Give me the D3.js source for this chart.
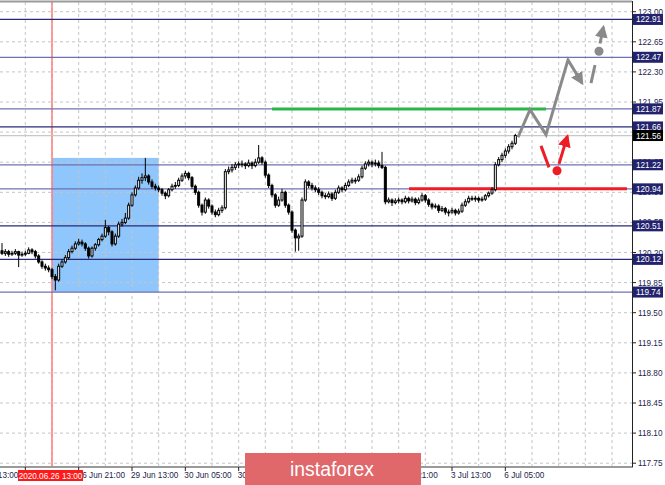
<!DOCTYPE html>
<html><head><meta charset="utf-8">
<script src="https://cdn.jsdelivr.net/npm/d3@7/dist/d3.min.js"></script>
<style>body{margin:0;background:#fff}svg{display:block}text{font-family:"Liberation Sans",Arial,sans-serif}</style>
</head><body><svg id="c" width="665" height="485"></svg>
<script>
// ---- data ----
const opens = [120.22,120.19,120.21,120.18,120.19,120.21,120.17,120.18,120.19,120.23,120.21,120.16,120.09,120.04,120.02,120.00,119.92,119.88,120.04,120.09,120.14,120.21,120.25,120.30,120.32,120.30,120.25,120.16,120.25,120.29,120.35,120.39,120.49,120.44,120.30,120.39,120.53,120.55,120.60,120.75,120.87,120.95,121.04,121.07,121.09,121.02,120.97,120.95,120.93,120.89,120.86,120.93,120.97,120.98,121.04,121.09,121.12,121.07,120.97,120.90,120.75,120.67,120.81,120.74,120.67,120.64,120.69,120.72,121.14,121.16,121.19,121.22,121.23,121.23,121.21,121.24,121.21,121.25,121.30,121.25,121.10,120.98,120.87,120.75,120.81,120.90,120.75,120.67,120.46,120.37,120.39,120.81,121.02,120.98,120.95,120.93,120.90,120.86,120.85,120.88,120.83,120.90,120.95,120.93,120.98,121.02,121.04,121.04,121.08,121.18,121.23,121.25,121.23,121.24,121.21,121.19,120.79,120.81,120.78,120.80,120.81,120.79,120.83,120.80,120.82,120.78,120.81,120.86,120.81,120.76,120.73,120.74,120.69,120.71,120.67,120.67,120.69,120.66,120.68,120.75,120.79,120.83,120.82,120.83,120.81,120.82,120.86,120.89,120.93,121.22,121.28,121.33,121.38,121.43,121.47];
const highs = [120.31,120.24,120.23,120.22,120.24,120.22,120.21,120.22,120.26,120.25,120.23,120.18,120.11,120.07,120.05,120.02,119.95,120.07,120.12,120.17,120.24,120.28,120.33,120.36,120.35,120.32,120.27,120.27,120.31,120.37,120.42,120.58,120.51,120.46,120.42,120.56,120.59,120.66,120.78,120.90,120.98,121.08,121.12,121.30,121.11,121.05,121.00,120.98,120.95,120.91,120.95,121.00,121.02,121.07,121.12,121.15,121.14,121.09,120.99,120.92,120.77,120.84,120.83,120.76,120.70,120.72,120.75,121.17,121.20,121.23,121.25,121.26,121.27,121.25,121.28,121.26,121.29,121.45,121.32,121.27,121.12,121.00,120.89,120.85,120.94,120.92,120.77,120.69,120.48,120.42,120.84,121.05,121.04,121.01,120.98,120.96,120.92,120.89,120.91,120.90,120.93,120.98,120.97,121.01,121.05,121.07,121.07,121.11,121.21,121.26,121.28,121.27,121.28,121.27,121.37,121.21,120.84,120.83,120.83,120.84,120.83,120.86,120.85,120.85,120.84,120.84,120.89,120.88,120.83,120.78,120.77,120.76,120.74,120.73,120.70,120.72,120.71,120.71,120.78,120.82,120.86,120.86,120.86,120.85,120.85,120.88,120.91,120.96,121.25,121.31,121.36,121.41,121.46,121.50,121.58];
const lows = [120.17,120.16,120.15,120.16,120.17,120.03,120.15,120.16,120.18,120.18,120.13,120.07,120.01,119.99,119.97,119.89,119.76,119.86,120.02,120.07,120.12,120.19,120.23,120.28,120.27,120.22,120.13,120.14,120.22,120.27,120.33,120.37,120.40,120.27,120.28,120.37,120.50,120.53,120.58,120.73,120.85,120.93,121.00,121.03,120.99,120.94,120.92,120.90,120.86,120.82,120.84,120.91,120.94,120.96,121.02,121.06,121.04,120.94,120.87,120.72,120.63,120.65,120.71,120.64,120.61,120.62,120.66,120.70,121.11,121.13,121.16,121.18,121.19,121.17,121.19,121.17,121.19,121.23,121.22,121.07,120.95,120.84,120.72,120.73,120.79,120.72,120.64,120.43,120.21,120.22,120.37,120.79,120.95,120.92,120.90,120.87,120.83,120.82,120.83,120.80,120.81,120.88,120.90,120.91,120.96,121.00,121.00,121.02,121.06,121.16,121.20,121.19,121.20,121.18,121.17,120.76,120.77,120.74,120.76,120.77,120.76,120.77,120.77,120.78,120.75,120.76,120.79,120.78,120.73,120.70,120.71,120.66,120.67,120.64,120.62,120.65,120.63,120.64,120.66,120.73,120.77,120.80,120.79,120.78,120.79,120.80,120.84,120.87,120.91,121.20,121.25,121.30,121.35,121.40,121.45];
const closes = [120.19,120.21,120.18,120.19,120.21,120.17,120.18,120.19,120.23,120.21,120.16,120.09,120.04,120.02,120.00,119.92,119.88,120.04,120.09,120.14,120.21,120.25,120.30,120.32,120.30,120.25,120.16,120.25,120.29,120.35,120.39,120.49,120.44,120.30,120.39,120.53,120.55,120.60,120.75,120.87,120.95,121.04,121.07,121.09,121.02,120.97,120.95,120.93,120.89,120.86,120.93,120.97,120.98,121.04,121.09,121.12,121.07,120.97,120.90,120.75,120.67,120.81,120.74,120.67,120.64,120.69,120.72,121.14,121.16,121.19,121.22,121.23,121.23,121.21,121.24,121.21,121.25,121.30,121.25,121.10,120.98,120.87,120.75,120.81,120.90,120.75,120.67,120.46,120.37,120.39,120.81,121.02,120.98,120.95,120.93,120.90,120.86,120.85,120.88,120.83,120.90,120.95,120.93,120.98,121.02,121.04,121.04,121.08,121.18,121.23,121.25,121.23,121.24,121.21,121.19,120.79,120.81,120.78,120.80,120.81,120.79,120.83,120.80,120.82,120.78,120.81,120.86,120.81,120.76,120.73,120.74,120.69,120.71,120.67,120.67,120.69,120.66,120.68,120.75,120.79,120.83,120.82,120.83,120.81,120.82,120.86,120.89,120.93,121.22,121.28,121.33,121.38,121.43,121.47,121.56];

const priceTicks = ["123.00","122.65","122.30","121.95","121.60","121.25","120.90","120.55","120.20","119.85","119.50","119.15","118.80","118.45","118.10","117.75"];
const timeLabels = ["25 Jun 13:00","26 Jun 05:00","26 Jun 21:00","29 Jun 13:00","30 Jun 05:00","30 Jun 21:00","1 Jul 13:00","2 Jul 05:00","2 Jul 21:00","3 Jul 13:00","6 Jul 05:00"];
const timeLabelIdx = [-9,7,23,39,55,71,87,103,119,135,151];
const gridIdx = d3.range(-1, 184, 8);
const levels = [122.91,122.47,121.87,121.66,121.22,120.94,120.51,120.12,119.74];
const levelDark = [true,false,false,true,false,false,true,true,false];
const currentPrice = 121.56;
const markerIdx = 15, markerLabel = "2020.06.26 13:00";
const zoneIdx = [15,47], zonePrice = [121.30, 119.74];
const greenLine = {from:81, to:163.2, price:121.87};
const redLine = {from:122.1, to:187.5, price:120.94};
const grayPath = [[154.8,121.54],[158.4,121.86],[163.2,121.57],[169.8,122.44],[174.0,122.17]];
const grayDash = [[176.7,122.17],[177.9,122.38]];
const grayDot = [179.1,122.54];
const grayArrow = [[179.4,122.63],[180.4,122.82]];
const redSeg = [[161.7,121.44],[164.1,121.19]];
const redDot = [166.5,121.15];
const redArrow = [[167.1,121.23],[169.6,121.55]];

// ---- scales ----
const svg = d3.select("#c");
const plotR = 632, plotB = 467;
const x = d3.scaleLinear().domain([0,1]).range([2, 2+10/3]);
const y = d3.scaleLinear().domain([117.75,123]).range([463.2,11.7]);

const defs = svg.append("defs");
function marker(id,color){
  defs.append("marker").attr("id",id).attr("viewBox","0 0 10 10").attr("refX",8).attr("refY",5)
   .attr("markerWidth",4.3).attr("markerHeight",4.3).attr("orient","auto").attr("markerUnits","strokeWidth")
   .append("path").attr("d","M0,0L10,5L0,10z").attr("fill",color);
}
marker("ag","#8a8a8a"); marker("ar","#ee1c25");
defs.append("clipPath").attr("id","pc").append("rect").attr("x",0).attr("y",2).attr("width",plotR).attr("height",plotB-2);

const plot = svg.append("g").attr("clip-path","url(#pc)");
plot.append("rect").attr("x",x(zoneIdx[0])).attr("y",y(zonePrice[0])).attr("width",x(zoneIdx[1])-x(zoneIdx[0])).attr("height",y(zonePrice[1])-y(zonePrice[0])).attr("fill","#8fc6fb");
plot.selectAll(".gv").data(gridIdx).join("line").attr("x1",d=>x(d)).attr("x2",d=>x(d)).attr("y1",2).attr("y2",plotB)
  .attr("stroke","#c4c4c4").attr("stroke-width",1).attr("stroke-dasharray","3,3");
plot.selectAll(".gh").data(priceTicks).join("line").attr("x1",0).attr("x2",plotR).attr("y1",d=>y(+d)).attr("y2",d=>y(+d))
  .attr("stroke","#c4c4c4").attr("stroke-width",1).attr("stroke-dasharray","3,3");
plot.append("line").attr("x1",x(markerIdx)).attr("x2",x(markerIdx)).attr("y1",2).attr("y2",plotB).attr("stroke","#ff7b7b").attr("stroke-width",1.5);
plot.selectAll(".lv").data(levels).join("line").attr("x1",0).attr("x2",plotR).attr("y1",d=>y(d)).attr("y2",d=>y(d))
  .attr("stroke",(d,i)=>levelDark[i]?"#2a2a78":"#7070b4").attr("stroke-width",1.3);
plot.append("line").attr("x1",0).attr("x2",plotR).attr("y1",y(currentPrice)).attr("y2",y(currentPrice)).attr("stroke","#c8c8c8").attr("stroke-width",1.2);
plot.append("line").attr("x1",x(greenLine.from)).attr("x2",x(greenLine.to)).attr("y1",y(greenLine.price)).attr("y2",y(greenLine.price)).attr("stroke","#2cb54a").attr("stroke-width",3);
plot.append("line").attr("x1",x(redLine.from)).attr("x2",x(redLine.to)).attr("y1",y(redLine.price)).attr("y2",y(redLine.price)).attr("stroke","#ee1c25").attr("stroke-width",3);
// candles
const idx = d3.range(closes.length);
const cg = plot.append("g");
cg.selectAll(".w").data(idx).join("line").attr("x1",i=>x(i)).attr("x2",i=>x(i))
  .attr("y1",i=>y(highs[i])).attr("y2",i=>y(lows[i])).attr("stroke","#000").attr("stroke-width",1);
cg.selectAll(".b").data(idx).join("rect")
  .attr("x",i=>x(i)-1).attr("width",2)
  .attr("y",i=>y(Math.max(opens[i],closes[i]))).attr("height",i=>Math.max(0.8,Math.abs(y(opens[i])-y(closes[i]))))
  .attr("fill",i=>closes[i]>=opens[i]?"#fff":"#000").attr("stroke","#000").attr("stroke-width",1);
// annotations
const ln = d3.line().x(d=>x(d[0])).y(d=>y(d[1]));
plot.append("path").attr("d",ln(grayPath)).attr("fill","none").attr("stroke","#8a8a8a").attr("stroke-width",3).attr("marker-end","url(#ag)");
plot.append("path").attr("d",ln(grayDash)).attr("fill","none").attr("stroke","#8a8a8a").attr("stroke-width",3);
plot.append("circle").attr("cx",x(grayDot[0])).attr("cy",y(grayDot[1])).attr("r",4.5).attr("fill","#8a8a8a");
plot.append("path").attr("d",ln(grayArrow)).attr("fill","none").attr("stroke","#8a8a8a").attr("stroke-width",3).attr("marker-end","url(#ag)");
plot.append("path").attr("d",ln(redSeg)).attr("fill","none").attr("stroke","#ee1c25").attr("stroke-width",3);
plot.append("circle").attr("cx",x(redDot[0])).attr("cy",y(redDot[1])).attr("r",4.5).attr("fill","#ee1c25");
plot.append("path").attr("d",ln(redArrow)).attr("fill","none").attr("stroke","#ee1c25").attr("stroke-width",3).attr("marker-end","url(#ar)");

// frame
svg.append("line").attr("x1",0).attr("x2",plotR).attr("y1",1.5).attr("y2",1.5).attr("stroke","#9a9a9a").attr("stroke-width",2);
svg.append("line").attr("x1",0).attr("x2",plotR+1).attr("y1",plotB).attr("y2",plotB).attr("stroke","#9a9a9a").attr("stroke-width",2);
svg.append("line").attr("x1",plotR+0.5).attr("x2",plotR+0.5).attr("y1",1).attr("y2",plotB).attr("stroke","#222").attr("stroke-width",1);

// price axis
const pa = svg.append("g");
pa.selectAll("line").data(priceTicks).join("line").attr("x1",plotR).attr("x2",plotR+4).attr("y1",d=>y(+d)).attr("y2",d=>y(+d)).attr("stroke","#222");
pa.selectAll("text").data(priceTicks).join("text").attr("x",plotR+6).attr("y",d=>y(+d)+3).attr("font-size",8.2).attr("fill","#1d1d4a").text(d=>d);
const lg = svg.append("g");
const allLv = levels.map(v=>({v,c:"#22226e"})).concat([{v:currentPrice,c:"#000"}]);
lg.selectAll("rect").data(allLv).join("rect").attr("x",plotR+1).attr("y",d=>y(d.v)-5.5).attr("width",30).attr("height",11).attr("fill",d=>d.c);
lg.selectAll("text").data(allLv).join("text").attr("x",plotR+4).attr("y",d=>y(d.v)+3).attr("font-size",8.2).attr("fill","#fff").text(d=>d.v.toFixed(2));

// time axis
const ta = svg.append("g");
ta.selectAll("line").data(timeLabelIdx).join("line").attr("x1",i=>x(i)).attr("x2",i=>x(i)).attr("y1",plotB).attr("y2",plotB+4).attr("stroke","#222");
ta.selectAll("text").data(timeLabelIdx).join("text").attr("x",i=>x(i)-1).attr("y",478).attr("font-size",8.2).attr("fill","#1d1d4a").text((d,i)=>timeLabels[i]);
const mx = x(markerIdx);
svg.append("rect").attr("x",mx-34).attr("y",470).attr("width",65).attr("height",11).attr("fill","#ff1a1a");
svg.append("text").attr("x",mx-1.5).attr("y",478.5).attr("text-anchor","middle").attr("font-size",8.2).attr("fill","#fff").text(markerLabel);

// watermark
svg.append("rect").attr("x",245).attr("y",453).attr("width",176).attr("height",32).attr("fill","#e0676a");
svg.append("text").attr("x",290).attr("y",476).attr("font-family","'Open Sans',sans-serif").attr("font-size",20).attr("fill","#fff").attr("textLength",84).attr("lengthAdjust","spacingAndGlyphs").text("instaforex");
</script></body></html>
